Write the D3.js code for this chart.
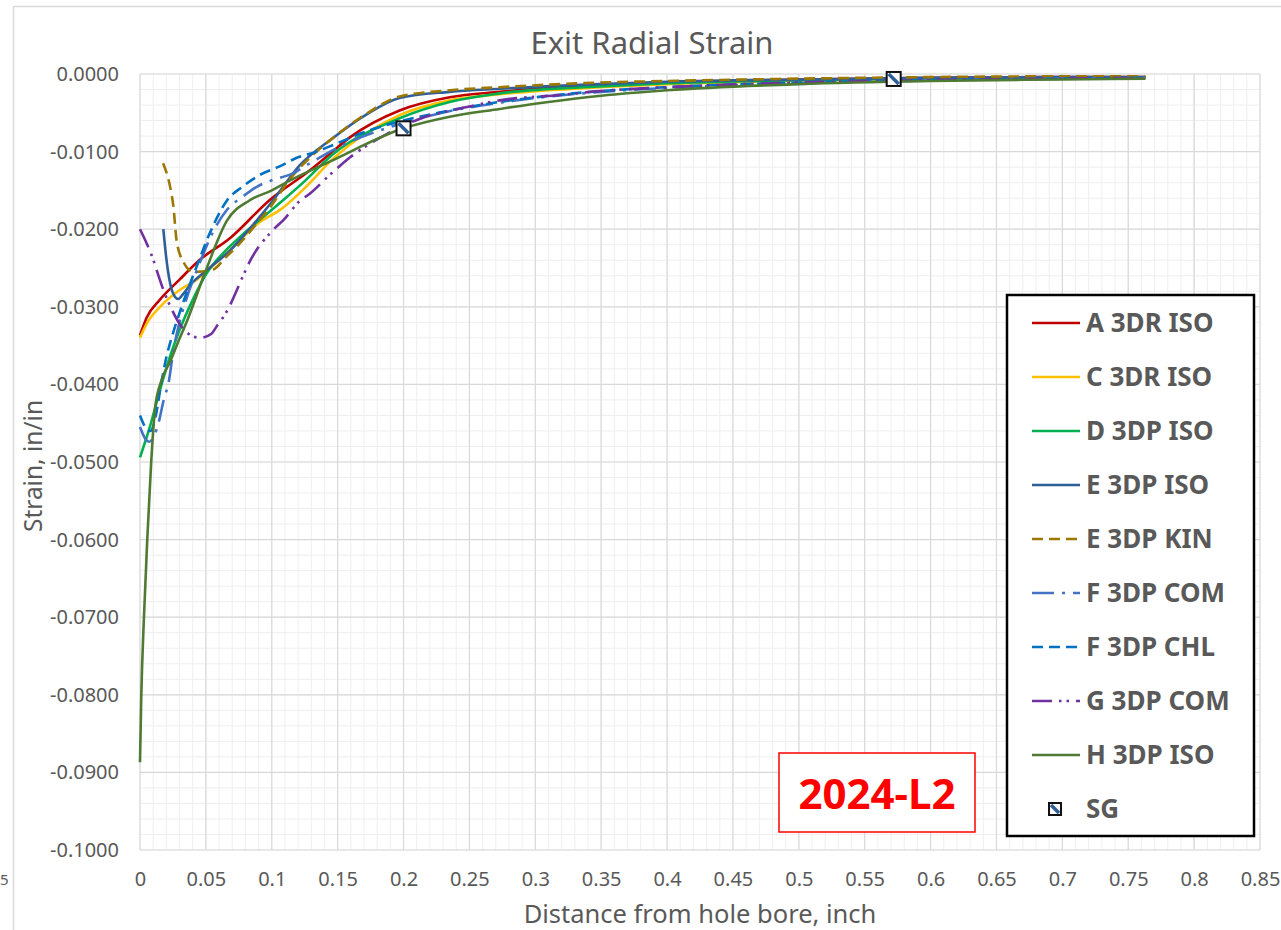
<!DOCTYPE html>
<html>
<head>
<meta charset="utf-8">
<script src="https://cdn.jsdelivr.net/npm/d3@7"></script>
<style>
  html, body { margin: 0; padding: 0; background: #fff; }
  svg { display: block; }
  text { font-family: "Noto Sans", "Open Sans", sans-serif; }
</style>
</head>
<body>
<svg id="chart" width="1281" height="930"></svg>
<script>
// ---- data -------------------------------------------------------------
const seriesNames = ["A 3DR ISO", "C 3DR ISO", "D 3DP ISO", "E 3DP ISO", "E 3DP KIN",
                     "F 3DP COM", "F 3DP CHL", "G 3DP COM", "H 3DP ISO"];

// [distance (in), strain (in/in)]
const a3drIso = [[0,-0.0337],[0.005,-0.0314],[0.015,-0.0291],[0.030,-0.0265],[0.045,-0.0240],
  [0.068,-0.0212],[0.0987,-0.0162],[0.129,-0.0124],[0.144,-0.0103],[0.159,-0.0082],[0.197,-0.0047],
  [0.235,-0.0030],[0.273,-0.0023],[0.349,-0.0014],[0.4,-0.0011],[0.5,-0.0007],[0.6,-0.0005],[0.7,-0.0004],[0.763,-0.0004]];
const c3drIso = [[0,-0.0340],[0.005,-0.0322],[0.0152,-0.0300],[0.0304,-0.0278],[0.043,-0.0265],
  [0.068,-0.0227],[0.09,-0.0192],[0.108,-0.0173],[0.125,-0.0147],[0.146,-0.0110],[0.197,-0.0053],
  [0.235,-0.0034],[0.273,-0.0026],[0.349,-0.0017],[0.4,-0.0013],[0.5,-0.0009],[0.6,-0.0006],[0.7,-0.0005],[0.763,-0.0005]];
const d3dpIso = [[0,-0.0494],[0.0076,-0.0454],[0.0152,-0.0407],[0.0228,-0.0364],[0.030,-0.0330],
  [0.040,-0.0291],[0.0506,-0.0257],[0.063,-0.0231],[0.0759,-0.0210],[0.0936,-0.0184],[0.109,-0.0162],
  [0.125,-0.0138],[0.146,-0.0104],[0.197,-0.0057],[0.235,-0.0036],[0.273,-0.0025],[0.349,-0.0016],
  [0.4,-0.0012],[0.5,-0.0008],[0.6,-0.0006],[0.7,-0.0005],[0.763,-0.0005]];
const e3dpIso = [[0.0177,-0.0200],[0.020,-0.0238],[0.023,-0.0271],[0.0265,-0.0287],[0.029,-0.0290],
  [0.033,-0.0283],[0.038,-0.0272],[0.0506,-0.0253],[0.068,-0.0228],[0.085,-0.0196],[0.1,-0.0165],
  [0.121,-0.0118],[0.146,-0.0083],[0.172,-0.0052],[0.197,-0.0031],[0.235,-0.0023],[0.273,-0.0019],
  [0.349,-0.0013],[0.4,-0.0010],[0.5,-0.0007],[0.6,-0.0005],[0.7,-0.0004],[0.763,-0.0004]];
const e3dpKin = [[0.0175,-0.0115],[0.0228,-0.0145],[0.0253,-0.0170],[0.0278,-0.0215],[0.0329,-0.0242],
  [0.0405,-0.0255],[0.0544,-0.0253],[0.0658,-0.0235],[0.0759,-0.0218],[0.086,-0.0198],[0.0987,-0.0172],
  [0.114,-0.0135],[0.134,-0.0100],[0.146,-0.0083],[0.172,-0.0051],[0.197,-0.0029],[0.235,-0.0021],
  [0.273,-0.0017],[0.349,-0.0011],[0.4,-0.0009],[0.5,-0.0006],[0.6,-0.0004],[0.7,-0.0003],[0.763,-0.0003]];
const f3dpCom = [[0,-0.0455],[0.004,-0.0470],[0.007,-0.0474],[0.011,-0.0465],[0.014,-0.0450],
  [0.018,-0.0420],[0.022,-0.0395],[0.025,-0.0360],[0.030,-0.0320],[0.035,-0.0291],[0.045,-0.0245],
  [0.055,-0.0205],[0.066,-0.0175],[0.078,-0.0158],[0.089,-0.0145],[0.1,-0.0137],[0.116,-0.0128],
  [0.129,-0.0115],[0.15,-0.0095],[0.2,-0.0063],[0.232,-0.0049],[0.273,-0.0037],[0.3,-0.0031],
  [0.35,-0.0023],[0.4,-0.0018],[0.5,-0.0012],[0.6,-0.0008],[0.7,-0.0006],[0.763,-0.0005]];
const f3dpChl = [[0,-0.0440],[0.004,-0.0455],[0.008,-0.0460],[0.012,-0.0440],[0.016,-0.0400],
  [0.020,-0.0365],[0.024,-0.0340],[0.030,-0.0308],[0.043,-0.0248],[0.053,-0.0205],[0.066,-0.0163],
  [0.078,-0.0145],[0.091,-0.0130],[0.106,-0.0119],[0.119,-0.0108],[0.134,-0.0100],[0.15,-0.0089],
  [0.175,-0.0072],[0.2,-0.0060],[0.235,-0.0047],[0.273,-0.0036],[0.3,-0.0030],[0.35,-0.0022],
  [0.4,-0.0017],[0.5,-0.0011],[0.6,-0.0008],[0.7,-0.0006],[0.763,-0.0005]];
const g3dpCom = [[0,-0.0200],[0.005,-0.0218],[0.010,-0.0239],[0.0127,-0.0253],[0.0177,-0.0278],
  [0.024,-0.0303],[0.030,-0.0322],[0.037,-0.0335],[0.0455,-0.0340],[0.054,-0.0335],[0.059,-0.0323],
  [0.0645,-0.0310],[0.078,-0.0261],[0.082,-0.0246],[0.101,-0.0201],[0.109,-0.0188],[0.121,-0.0164],
  [0.129,-0.0154],[0.144,-0.0130],[0.159,-0.0108],[0.19,-0.0075],[0.212,-0.0058],[0.25,-0.0042],
  [0.273,-0.0034],[0.319,-0.0027],[0.349,-0.0022],[0.4,-0.0017],[0.5,-0.0011],[0.6,-0.0008],
  [0.7,-0.0006],[0.763,-0.0005]];
const h3dpIso = [[0,-0.0887],[0.001,-0.0800],[0.003,-0.0700],[0.0055,-0.0600],[0.0085,-0.0500],
  [0.0115,-0.0430],[0.0165,-0.0394],[0.023,-0.0370],[0.029,-0.0345],[0.036,-0.0317],[0.05,-0.0253],
  [0.066,-0.0189],[0.083,-0.0163],[0.1,-0.0150],[0.114,-0.0137],[0.144,-0.0113],[0.2,-0.0070],
  [0.235,-0.0055],[0.273,-0.0045],[0.31,-0.0036],[0.35,-0.0028],[0.4,-0.0021],[0.5,-0.0013],
  [0.6,-0.0009],[0.7,-0.0007],[0.763,-0.0006]];

const sgPoints = [[0.2,-0.0070],[0.572,-0.00064]];

const xTicks = [0,0.05,0.1,0.15,0.2,0.25,0.3,0.35,0.4,0.45,0.5,0.55,0.6,0.65,0.7,0.75,0.8,0.85];
const yTicks = [0,-0.01,-0.02,-0.03,-0.04,-0.05,-0.06,-0.07,-0.08,-0.09,-0.1];

// ---- styles ----------------------------------------------------------
const seriesData = [a3drIso, c3drIso, d3dpIso, e3dpIso, e3dpKin, f3dpCom, f3dpChl, g3dpCom, h3dpIso];
const seriesColors = ["#C00000","#FFC000","#00B050","#2F5F98","#9C7800","#4472C4","#0070C0","#7030A0","#4F7A32"];
const seriesDash = [null,null,null,null,"11,6","22,8,3,8","11,6","20,7,2.5,5,2.5,7",null];

const series = seriesNames.map((name, i) => ({
  name, values: seriesData[i], color: seriesColors[i], dash: seriesDash[i]
}));

// ---- layout ----------------------------------------------------------
const svg = d3.select("#chart");
const plot = { left: 140, right: 1260, top: 74, bottom: 850 };

const x = d3.scaleLinear().domain([0, 0.85]).range([plot.left, plot.right]);
const y = d3.scaleLinear().domain([0, -0.1]).range([plot.top, plot.bottom]);

// outer chart frame fragments
svg.append("line").attr("x1", 13.5).attr("x2", 13.5).attr("y1", 6).attr("y2", 930)
  .attr("stroke", "#d9d9d9").attr("stroke-width", 1.5);
svg.append("line").attr("x1", 13).attr("x2", 1281).attr("y1", 6.5).attr("y2", 6.5)
  .attr("stroke", "#d9d9d9").attr("stroke-width", 1.5);
svg.append("text").attr("x", 0).attr("y", 885).attr("text-anchor", "start")
  .attr("font-size", 15).attr("fill", "#595959").text("5");

// minor grid
const g = svg.append("g");
g.selectAll("line.mx").data(d3.range(0, 86).map(i => i * 0.01)).join("line")
  .attr("x1", d => x(d)).attr("x2", d => x(d)).attr("y1", plot.top).attr("y2", plot.bottom)
  .attr("stroke", "#efefef").attr("stroke-width", 1);
g.selectAll("line.my").data(d3.range(0, 51).map(i => -i * 0.002)).join("line")
  .attr("x1", plot.left).attr("x2", plot.right).attr("y1", d => y(d)).attr("y2", d => y(d))
  .attr("stroke", "#efefef").attr("stroke-width", 1);

// major grid
g.selectAll("line.gx").data(xTicks).join("line")
  .attr("x1", d => x(d)).attr("x2", d => x(d)).attr("y1", plot.top).attr("y2", plot.bottom)
  .attr("stroke", "#d9d9d9").attr("stroke-width", 1.2);
g.selectAll("line.gy").data(yTicks).join("line")
  .attr("x1", plot.left).attr("x2", plot.right).attr("y1", d => y(d)).attr("y2", d => y(d))
  .attr("stroke", "#d9d9d9").attr("stroke-width", 1.2);

// axes
const xAxis = d3.axisBottom(x).tickValues(xTicks).tickSize(0).tickPadding(22)
  .tickFormat(d => String(+d.toFixed(2)));
const yAxis = d3.axisLeft(y).tickValues(yTicks).tickSize(0).tickPadding(21)
  .tickFormat(d => (d === 0 ? 0 : d).toFixed(4));

const gx = svg.append("g").attr("transform", `translate(0,${plot.bottom})`).call(xAxis);
const gy = svg.append("g").attr("transform", `translate(${plot.left},0)`).call(yAxis);
[gx, gy].forEach(ax => {
  ax.select(".domain").remove();
  ax.selectAll("text").attr("font-size", 20).attr("fill", "#595959")
    .style("font-family", '"Noto Sans", sans-serif');
});

// title & axis titles
svg.append("text").attr("x", 652).attr("y", 54).attr("text-anchor", "middle")
  .attr("font-size", 31).attr("fill", "#595959").text("Exit Radial Strain");
svg.append("text").attr("x", 700).attr("y", 923).attr("text-anchor", "middle")
  .attr("font-size", 25.5).attr("fill", "#595959").text("Distance from hole bore, inch");
svg.append("text").attr("transform", "translate(42,466) rotate(-90)").attr("text-anchor", "middle")
  .attr("font-size", 24.5).attr("fill", "#595959").text("Strain, in/in");

// series lines
const line = d3.line().x(d => x(d[0])).y(d => y(d[1])).curve(d3.curveMonotoneX);
svg.append("g").selectAll("path").data(series).join("path")
  .attr("d", d => line(d.values))
  .attr("fill", "none")
  .attr("stroke", d => d.color)
  .attr("stroke-width", 2.6)
  .attr("stroke-dasharray", d => d.dash);

// SG markers
const sgMarker = (sel, size) => {
  const h = size / 2;
  sel.append("rect").attr("x", -h).attr("y", -h).attr("width", size).attr("height", size)
    .attr("fill", "#ffffff");
  sel.append("line").attr("x1", -h + 2).attr("y1", -h + 2).attr("x2", h - 2).attr("y2", h - 2)
    .attr("stroke", "#2F5F98").attr("stroke-width", 3.5);
  sel.append("rect").attr("x", -h).attr("y", -h).attr("width", size).attr("height", size)
    .attr("fill", "none").attr("stroke", "#111").attr("stroke-width", 2);
};
svg.append("g").selectAll("g").data(sgPoints).join("g")
  .attr("transform", d => `translate(${x(d[0])},${y(d[1])})`)
  .each(function () { sgMarker(d3.select(this), 14); });

// legend
const legend = svg.append("g");
legend.append("rect").attr("x", 1007).attr("y", 295).attr("width", 247).attr("height", 541)
  .attr("fill", "#fff").attr("stroke", "#000").attr("stroke-width", 2.5);
const rowY = i => 323 + i * 54;
const items = legend.selectAll("g.item").data(series).join("g")
  .attr("transform", (d, i) => `translate(0,${rowY(i)})`);
items.append("line").attr("x1", 1032).attr("x2", 1080).attr("y1", 0).attr("y2", 0)
  .attr("stroke", d => d.color).attr("stroke-width", 2.6).attr("stroke-dasharray", d => d.dash);
items.append("text").attr("x", 1086).attr("y", 9).attr("font-size", 26).attr("font-weight", "bold")
  .attr("fill", "#595959").text(d => d.name);
const sgRow = legend.append("g").attr("transform", `translate(0,${rowY(9)})`);
sgRow.append("g").attr("transform", "translate(1055,0)").call(s => sgMarker(s, 12));
sgRow.append("text").attr("x", 1086).attr("y", 9).attr("font-size", 26).attr("font-weight", "bold")
  .attr("fill", "#595959").text("SG");

// run label
svg.append("rect").attr("x", 779).attr("y", 753).attr("width", 196).attr("height", 79)
  .attr("fill", "#fff").attr("stroke", "#FF0000").attr("stroke-width", 1.5);
svg.append("text").attr("x", 877).attr("y", 809).attr("text-anchor", "middle")
  .attr("font-size", 42).attr("font-weight", "bold").attr("fill", "#FF0000").text("2024-L2");
</script>
</body>
</html>
